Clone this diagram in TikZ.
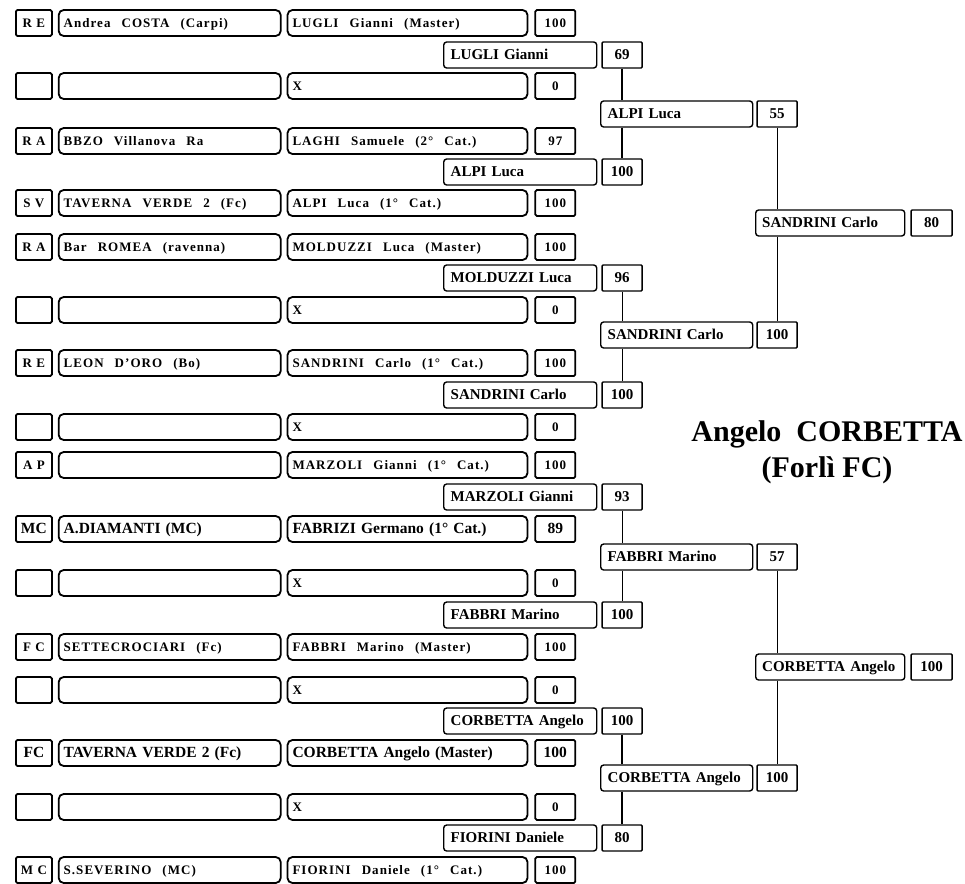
\documentclass[tikz,border=0pt]{standalone}
\usepackage{fontspec}
\setmainfont{Liberation Serif}
\newfontfamily\widefamily[LetterSpace=8]{Liberation Serif}
\usepackage{tikz}
\usetikzlibrary{positioning}
\newcommand{\wordskip}{.3333em}
\newcommand{\sptext}{\widefamily\bfseries\fontsize{13}{15}\selectfont\def\wordskip{.85em}}
\newcommand{\bdtext}{\bfseries\fontsize{15.5}{17}\selectfont}
\newcommand{\nmtext}{\bfseries\fontsize{15}{17}\selectfont}

\tikzset{
  cell/.style={draw, line width=1.8pt, fill=white, minimum height=26pt, inner ysep=0pt,
    text height=10pt, text depth=1.5pt, anchor=west,
    execute at begin node={\spaceskip=\wordskip\relax}},
  codebox/.style={cell, rounded corners=1.5pt, minimum width=36pt, inner xsep=0pt,
    execute at begin node={\spaceskip=.3333em\relax}},
  clubbox/.style={cell, rounded corners=5pt, text width=212pt, inner xsep=5pt, align=left},
  playerbox/.style={cell, rounded corners=5pt, text width=230pt, inner xsep=5pt, align=left},
  scorebox/.style={cell, rounded corners=1.5pt, minimum width=40pt, inner xsep=0pt},
  namebox/.style={cell, line width=1.4pt, rounded corners=3pt, text width=#1, inner xsep=7pt, align=left, font=\nmtext},
  pointbox/.style={cell, line width=1.4pt, rounded corners=1pt, minimum width=40pt, inner xsep=0pt, font=\nmtext},
  link/.style={line width=2.4pt},
  thinlink/.style={line width=1pt}
}

\begin{document}
\begin{tikzpicture}[x=1pt, y=-1pt]
  \useasboundingbox (0,0) rectangle (965,883);

  % first round
  \foreach \n/\y/\f/\code/\club/\player/\score in {
    1/23/\sptext/R E/Andrea COSTA (Carpi)/LUGLI Gianni (Master)/100,
    2/86/\sptext///X/0,
    3/141/\sptext/R A/BBZO Villanova Ra/LAGHI Samuele (2° Cat.)/97,
    4/203/\sptext/S V/TAVERNA VERDE 2 (Fc)/ALPI Luca (1° Cat.)/100,
    5/247/\sptext/R A/Bar ROMEA (ravenna)/MOLDUZZI Luca (Master)/100,
    6/310/\sptext///X/0,
    7/363/\sptext/R E/LEON D’ORO (Bo)/SANDRINI Carlo (1° Cat.)/100,
    8/427/\sptext///X/0,
    9/465/\sptext/A P//MARZOLI Gianni (1° Cat.)/100,
    10/529/\bdtext/MC/A.DIAMANTI (MC)/FABRIZI Germano (1° Cat.)/89,
    11/583/\sptext///X/0,
    12/647/\sptext/F C/SETTECROCIARI (Fc)/FABBRI Marino (Master)/100,
    13/690/\sptext///X/0,
    14/753/\bdtext/FC/TAVERNA VERDE 2 (Fc)/CORBETTA Angelo (Master)/100,
    15/807/\sptext///X/0,
    16/870/\sptext/M C/S.SEVERINO (MC)/FIORINI Daniele (1° Cat.)/100}{
    \node[codebox, font=\f] (code\n) at (15,\y) {\code};
    \node[clubbox, font=\f, right=5pt of code\n] (club\n) {\club};
    \node[playerbox, font=\f, right=5pt of club\n] (player\n) {\player};
    \node[scorebox, font=\f, right=6pt of player\n] (score\n) {\score};
  }

  % second round
  \foreach \n/\y/\who/\pts in {1/55/LUGLI Gianni/69, 2/172/ALPI Luca/100,
      3/278/MOLDUZZI Luca/96, 4/395/SANDRINI Carlo/100, 5/497/MARZOLI Gianni/93,
      6/615/FABBRI Marino/100, 7/721/CORBETTA Angelo/100, 8/838/FIORINI Daniele/80}{
    \node[namebox=139pt] (r2n\n) at (443,\y) {\who};
    \node[pointbox, right=4pt of r2n\n] (r2s\n) {\pts};
  }

  % third round
  \foreach \n/\y/\who/\pts in {1/114/ALPI Luca/55, 2/335/SANDRINI Carlo/100,
      3/557/FABBRI Marino/57, 4/778/CORBETTA Angelo/100}{
    \node[namebox=138pt] (r3n\n) at (600,\y) {\who};
    \node[pointbox, right=3pt of r3n\n] (r3s\n) {\pts};
  }

  % semifinal
  \foreach \n/\y/\who/\pts in {1/223/SANDRINI Carlo/80, 2/667/CORBETTA Angelo/100}{
    \node[namebox=136pt, inner xsep=6.5pt] (r4n\n) at (755,\y) {\who};
    \node[pointbox, minimum width=41pt, right=5pt of r4n\n] (r4s\n) {\pts};
  }

  \node[font=\bfseries\fontsize{30}{36}\selectfont, align=center] (winner) at (827,452)
    {Angelo\ \ CORBETTA\\(Forlì FC)};

  % brackets
  \draw[link] (r2s1.south) -- (r2s1.south |- r3n1.north);
  \draw[link] (r3n1.south -| r2s2.north) -- (r2s2.north);
  \draw[thinlink] (r2s3.south) -- (r2s3.south |- r3n2.north);
  \draw[thinlink] (r3n2.south -| r2s4.north) -- (r2s4.north);
  \draw[thinlink] (r2s5.south) -- (r2s5.south |- r3n3.north);
  \draw[thinlink] (r3n3.south -| r2s6.north) -- (r2s6.north);
  \draw[link] (r2s7.south) -- (r2s7.south |- r3n4.north);
  \draw[link] (r3n4.south -| r2s8.north) -- (r2s8.north);
  \draw[thinlink] (r3s1.south) -- (r3s1.south |- r4n1.north);
  \draw[thinlink] (r4n1.south -| r3s2.north) -- (r3s2.north);
  \draw[thinlink] (r3s3.south) -- (r3s3.south |- r4n2.north);
  \draw[thinlink] (r4n2.south -| r3s4.north) -- (r3s4.north);
\end{tikzpicture}
\end{document}
